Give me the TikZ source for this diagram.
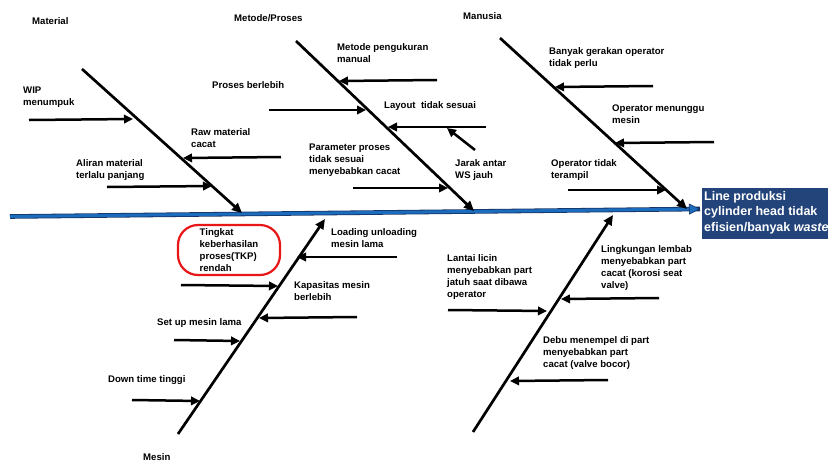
\documentclass[tikz,border=0pt]{standalone}
\usepackage{fontspec}
\setmainfont{Liberation Sans}
\usetikzlibrary{arrows.meta}
\definecolor{spineblue}{RGB}{28,108,190}
\definecolor{spineedge}{RGB}{22,52,100}
\definecolor{headfill}{RGB}{35,68,122}
\definecolor{ringred}{RGB}{232,22,22}

\begin{document}
\begin{tikzpicture}[x=1pt,y=-1pt,
  lbl/.style={anchor=north west, inner sep=0pt, align=left,
              font=\fontsize{9.6}{12}\selectfont\bfseries},
  bone/.style={line width=2.7pt, -{Triangle[length=10pt,width=9pt]}},
  cause/.style={line width=2.5pt, -{Triangle[length=9pt,width=8.5pt]}},
]
\useasboundingbox (0,0) rectangle (828,461);
\fill[white] (0,0) rectangle (828,461);

% ---------- main spine and effect box ----------
\coordinate (spineL) at (10,216.5);
\coordinate (spineR) at (700,209);
\fill[headfill] (702,188) rectangle (840,239);
\node[anchor=north west, inner sep=0pt, align=left, text=white,
      font=\fontsize{12.5}{15.5}\selectfont\bfseries] (head) at (704,191)
  {Line produksi\\cylinder head tidak\\efisien/banyak \textit{waste}};
\draw[line width=4.6pt, spineedge] (spineL) -- (spineR);
\draw[line width=3pt, spineblue,
      -{Triangle[length=11pt,width=11pt,color=spineedge,fill=spineblue,line width=0.6pt]}]
      (spineL) -- (spineR);

% ---------- category headings ----------
\node[lbl] (catMat) at (32,17) {Material};
\node[lbl] (catMet) at (234,14) {Metode/Proses};
\node[lbl] (catMan) at (463,12) {Manusia};
\node[lbl] (catMes) at (143,453) {Mesin};

% ---------- main bones ----------
\coordinate (matA) at (82,69);   \coordinate (matB) at (242,213);
\coordinate (metA) at (296,41);  \coordinate (metB) at (474,211);
\coordinate (manA) at (500,38);  \coordinate (manB) at (687,209);
\coordinate (mesA) at (178,434); \coordinate (mesB) at (325,219);
\coordinate (linA) at (473,432); \coordinate (linB) at (613,215);
\draw[bone] (matA) -- (matB);
\draw[bone] (metA) -- (metB);
\draw[bone] (manA) -- (manB);
\draw[bone] (mesA) -- (mesB);
\draw[bone] (linA) -- (linB);

% ---------- Material causes ----------
\node[lbl] (wip) at (23,87) {WIP\\menumpuk};
\node[lbl] (raw) at (191,128) {Raw material\\cacat};
\node[lbl] (ali) at (76,159) {Aliran material\\terlalu panjang};
\coordinate (wipA) at (29,120);  \coordinate (wipB) at (133,119);
\coordinate (rawA) at (281,157); \coordinate (rawB) at (183,158);
\coordinate (aliA) at (107,187); \coordinate (aliB) at (212,186);
\draw[cause] (wipA) -- (wipB);
\draw[cause] (rawA) -- (rawB);
\draw[cause] (aliA) -- (aliB);

% ---------- Metode/Proses causes ----------
\node[lbl] (ukur) at (337,43) {Metode pengukuran\\manual};
\node[lbl] (lebih) at (212,81) {Proses berlebih};
\node[lbl] (layout) at (384,101) {Layout\ \ tidak sesuai};
\node[lbl] (jarak) at (455,159) {Jarak antar\\WS jauh};
\node[lbl] (param) at (309,144) {Parameter proses\\tidak sesuai\\menyebabkan cacat};
\coordinate (ukurA) at (437,80);   \coordinate (ukurB) at (339,81);
\coordinate (lebihA) at (269,110); \coordinate (lebihB) at (366,110);
\coordinate (layA) at (486,127);   \coordinate (layB) at (388,127);
\coordinate (jarA) at (475,150);   \coordinate (jarB) at (447,128);
\coordinate (parA) at (353,188);   \coordinate (parB) at (448,188);
\draw[cause] (ukurA) -- (ukurB);
\draw[cause] (lebihA) -- (lebihB);
\draw[cause] (layA) -- (layB);
\draw[cause] (jarA) -- (jarB);
\draw[cause] (parA) -- (parB);

% ---------- Manusia causes ----------
\node[lbl] (gerak) at (549,47) {Banyak gerakan operator\\tidak perlu};
\node[lbl] (tunggu) at (612,105) {Operator menunggu\\mesin};
\node[lbl] (trampil) at (551,159) {Operator tidak\\terampil};
\coordinate (gerA) at (653,86);  \coordinate (gerB) at (555,87);
\coordinate (tunA) at (714,142); \coordinate (tunB) at (615,143);
\coordinate (traA) at (568,190); \coordinate (traB) at (666,190);
\draw[cause] (gerA) -- (gerB);
\draw[cause] (tunA) -- (tunB);
\draw[cause] (traA) -- (traB);

% ---------- Mesin causes ----------
\node[lbl] (load) at (331,228) {Loading unloading\\mesin lama};
\node[draw=ringred, line width=2.2pt, rounded corners=20pt,
      minimum width=102pt, minimum height=50pt, inner sep=0pt, align=left,
      font=\fontsize{9.6}{12}\selectfont\bfseries] (tkp) at (229,250)
  {Tingkat\\keberhasilan\\proses(TKP)\\rendah};
\node[lbl] (kapa) at (294,281) {Kapasitas mesin\\berlebih};
\node[lbl] (setup) at (157,318) {Set up mesin lama};
\node[lbl] (down) at (108,375) {Down time tinggi};
\coordinate (loaA) at (397,257); \coordinate (loaB) at (297,257);
\coordinate (tkpA) at (181,285); \coordinate (tkpB) at (278,286);
\coordinate (kapA) at (357,317); \coordinate (kapB) at (259,318);
\coordinate (setA) at (174,340); \coordinate (setB) at (240,341);
\coordinate (dowA) at (132,400); \coordinate (dowB) at (200,401);
\draw[cause] (loaA) -- (loaB);
\draw[cause] (tkpA) -- (tkpB);
\draw[cause] (kapA) -- (kapB);
\draw[cause] (setA) -- (setB);
\draw[cause] (dowA) -- (dowB);

% ---------- Lingkungan causes ----------
\node[lbl] (lantai) at (447,254) {Lantai licin\\menyebabkan part\\jatuh saat dibawa\\operator};
\node[lbl] (lembab) at (601,245) {Lingkungan lembab\\menyebabkan part\\cacat (korosi seat\\valve)};
\node[lbl] (debu) at (543,336) {Debu menempel di part\\menyebabkan part\\cacat (valve bocor)};
\coordinate (lanA) at (448,310); \coordinate (lanB) at (547,311);
\coordinate (lemA) at (659,298); \coordinate (lemB) at (561,299);
\coordinate (debA) at (608,380); \coordinate (debB) at (510,381);
\draw[cause] (lanA) -- (lanB);
\draw[cause] (lemA) -- (lemB);
\draw[cause] (debA) -- (debB);
\end{tikzpicture}
\end{document}
